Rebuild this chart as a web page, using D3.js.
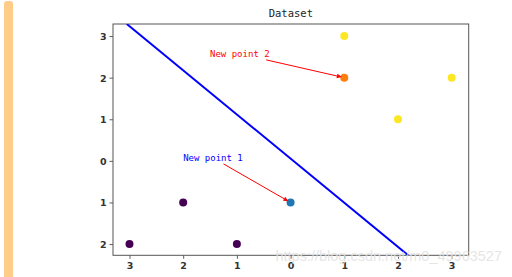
<!DOCTYPE html>
<html>
<head>
<meta charset="utf-8">
<script src="https://cdn.jsdelivr.net/npm/d3@7"></script>
<style>
  body { margin: 0; background: #fff; }
  svg { display: block; }
</style>
</head>
<body>
<div id="chart"></div>
<script>
const ancho = 512;
const alto = 277;

// datos
const claseA = [[-3, -2], [-2, -1], [-1, -2]];
const claseB = [[1, 3], [3, 2], [2, 1]];
const nuevos = [
  { nombre: "New point 1", punto: [0, -1], texto: [-2, 0], colorPunto: "#1f77b4", colorTexto: "blue" },
  { nombre: "New point 2", punto: [1, 2], texto: [-1.5, 2.5], colorPunto: "#ff7f0e", colorTexto: "red" }
];
const recta = [[-3.05, 3.29], [2.19, -2.27]];
const ticksX = [-3, -2, -1, 0, 1, 2, 3];
const etiquetasX = ["3", "2", "1", "0", "1", "2", "3"];
const ticksY = [-2, -1, 0, 1, 2, 3];
const etiquetasY = ["2", "1", "0", "1", "2", "3"];
const titulo = "Dataset";
const marcaAgua = "https://blog.csdn.net/m0_49963527";

const area = { izq: 113, der: 468.7, arr: 24, aba: 255.3 };

const svg = d3.select("#chart").append("svg")
  .attr("width", ancho)
  .attr("height", alto);

// barra naranja izquierda
svg.append("rect")
  .attr("x", 4).attr("y", 1)
  .attr("width", 9).attr("height", 290)
  .attr("rx", 3)
  .attr("fill", "#ffcc8a");

const x = d3.scaleLinear().domain([-3.307, 3.317]).range([area.izq, area.der]);
const y = d3.scaleLinear().domain([-2.27, 3.29]).range([area.aba, area.arr]);

svg.append("defs").append("clipPath").attr("id", "recorte")
  .append("rect")
  .attr("x", area.izq).attr("y", area.arr)
  .attr("width", area.der - area.izq).attr("height", area.aba - area.arr);

// ejes
const ejeX = svg.append("g")
  .attr("transform", `translate(0,${area.aba})`)
  .call(d3.axisBottom(x).tickValues(ticksX).tickSize(3.5).tickPadding(3)
    .tickFormat((d, i) => etiquetasX[i]));
const ejeY = svg.append("g")
  .attr("transform", `translate(${area.izq},0)`)
  .call(d3.axisLeft(y).tickValues(ticksY).tickSize(3.5).tickPadding(3)
    .tickFormat((d, i) => etiquetasY[i]));

[ejeX, ejeY].forEach(g => {
  g.select(".domain").remove();
  g.selectAll(".tick line").attr("stroke", "#333").attr("stroke-width", 0.8);
  g.selectAll(".tick text")
    .attr("fill", "#333")
    .style("font-family", "'DejaVu Sans', sans-serif")
    .style("font-size", "9.5px")
    .style("font-weight", "bold");
});
ejeY.selectAll(".tick text").attr("dy", "0.36em");

// marco
svg.append("rect")
  .attr("x", area.izq).attr("y", area.arr)
  .attr("width", area.der - area.izq).attr("height", area.aba - area.arr)
  .attr("fill", "none")
  .attr("stroke", "#555")
  .attr("stroke-width", 1);

// título
svg.append("text")
  .attr("x", (area.izq + area.der) / 2)
  .attr("y", 17)
  .attr("text-anchor", "middle")
  .attr("fill", "#222")
  .style("font-family", "'DejaVu Sans Mono', monospace")
  .style("font-size", "10.5px")
  .text(titulo);

// recta de decisión
svg.append("line")
  .attr("clip-path", "url(#recorte)")
  .attr("x1", x(recta[0][0])).attr("y1", y(recta[0][1]))
  .attr("x2", x(recta[1][0])).attr("y2", y(recta[1][1]))
  .attr("stroke", "blue")
  .attr("stroke-width", 2);

// puntos
svg.selectAll("circle.a")
  .data(claseA)
  .enter().append("circle")
  .attr("class", "a")
  .attr("cx", d => x(d[0])).attr("cy", d => y(d[1]))
  .attr("r", 4)
  .attr("fill", "#440154");

svg.selectAll("circle.b")
  .data(claseB)
  .enter().append("circle")
  .attr("class", "b")
  .attr("cx", d => x(d[0])).attr("cy", d => y(d[1]))
  .attr("r", 4)
  .attr("fill", "#fde725");

svg.selectAll("circle.nuevo")
  .data(nuevos)
  .enter().append("circle")
  .attr("class", "nuevo")
  .attr("cx", d => x(d.punto[0])).attr("cy", d => y(d.punto[1]))
  .attr("r", 4)
  .attr("fill", d => d.colorPunto);

// anotaciones con flecha
nuevos.forEach(d => {
  const t = svg.append("text")
    .attr("x", x(d.texto[0]))
    .attr("y", y(d.texto[1]))
    .attr("fill", d.colorTexto)
    .style("font-family", "'DejaVu Sans Mono', monospace")
    .style("font-size", "9px")
    .text(d.nombre);
  const bb = t.node().getBBox();
  const cx = bb.x + bb.width / 2, cy = bb.y + bb.height / 2;
  const px = x(d.punto[0]), py = y(d.punto[1]);
  const dx = px - cx, dy = py - cy;
  // recortar al borde del texto
  const s = Math.min((bb.width / 2 + 1) / Math.abs(dx), (bb.height / 2 + 1) / Math.abs(dy));
  const x1 = cx + dx * s, y1 = cy + dy * s;
  const largo = Math.hypot(px - x1, py - y1);
  const ux = (px - x1) / largo, uy = (py - y1) / largo;
  const x2 = px - ux * 2.5, y2 = py - uy * 2.5;
  const cabeza = 5, mitad = 2.2;
  svg.append("line")
    .attr("x1", x1).attr("y1", y1)
    .attr("x2", x2 - ux * cabeza).attr("y2", y2 - uy * cabeza)
    .attr("stroke", "red")
    .attr("stroke-width", 1);
  const bx = x2 - ux * cabeza, by = y2 - uy * cabeza;
  svg.append("polygon")
    .attr("points", [
      [x2, y2],
      [bx - uy * mitad, by + ux * mitad],
      [bx + uy * mitad, by - ux * mitad]
    ].map(p => p.join(",")).join(" "))
    .attr("fill", "red");
});

// marca de agua
svg.append("text")
  .attr("x", 502)
  .attr("y", 261)
  .attr("text-anchor", "end")
  .attr("fill", "rgba(225,225,225,0.85)")
  .style("font-family", "'Liberation Sans', sans-serif")
  .style("font-size", "14.5px")
  .text(marcaAgua);
</script>
</body>
</html>
